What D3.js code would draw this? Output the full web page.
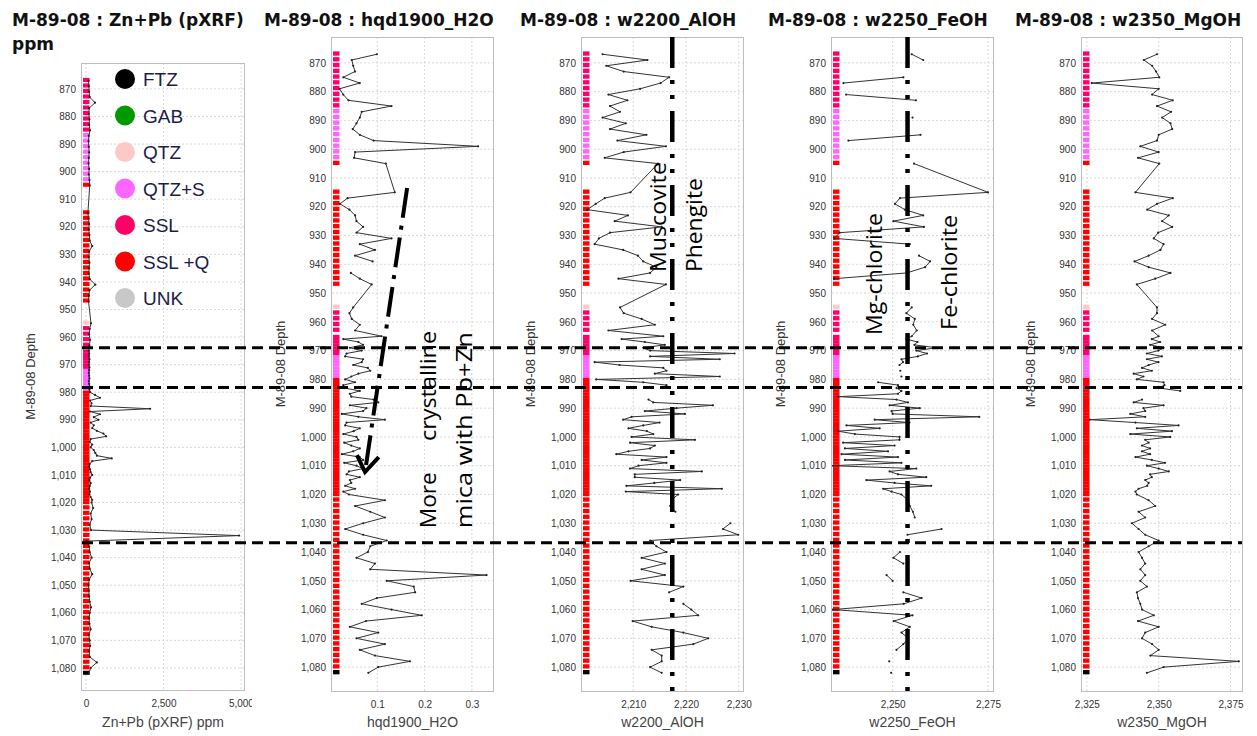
<!DOCTYPE html>
<html>
<head>
<meta charset="utf-8">
<script src="https://cdn.jsdelivr.net/npm/d3@7"></script>
<style>
  body { margin: 0; background: #fff; }
  svg { display: block; font-family: "Liberation Sans", Arial, sans-serif; }
</style>
</head>
<body>
<svg id="chart" width="1257" height="736"></svg>
<script>
// sample depths (m) - shared by every log
const depth = [
  867,869,871,873,875,877,879,881,883,885,887,889,891,893,895,897,899,901,903,905,
  915,917,919,921,923,925,927,929,931,933,935,937,939,941,943,945,947,
  955,957,959,961,963,965,
  966,967,968,969,970,971,972,973,974,975,976,977,978,979,
  980,981,982,983,984,985,986,987,988,989,990,991,992,993,994,995,996,997,998,999,
  1000,1001,1002,1003,1004,1005,1006,1007,1008,1009,1010,1011,1012,1013,1014,1015,1016,1017,1018,1019,1020,
  1022,1024,1026,1028,1030,1032,1034,1036,1038,1040,1042,1044,1046,1048,1050,
  1052,1054,1056,1058,1060,1062,1064,1066,1068,1070,1072,1074,1076,1078,1080,1082
];

const znPb = [
  80,90,100,120,290,100,90,110,100,130,90,80,90,100,90,80,100,90,110,120,
  60,80,100,90,110,120,200,100,90,110,100,90,120,300,110,90,80,
  160,120,100,130,110,90,
  100,90,110,100,90,110,100,90,100,110,90,100,120,110,
  130,290,450,130,180,150,2070,130,450,250,400,150,250,200,350,560,650,150,120,200,
  150,250,300,350,830,200,120,100,130,150,200,130,110,150,120,100,130,110,150,200,180,
  230,150,180,120,160,4940,20,100,120,180,100,120,200,100,80,
  90,100,120,160,120,100,110,150,90,120,130,100,120,350,150,90
];

const hqd1900 = [
  .099,.046,.049,.053,.028,.063,.020,.028,.039,.130,.067,.063,.056,.048,.063,.092,.313,.053,.051,.118,
  .137,.037,.021,.041,.053,.056,.070,.056,.130,.063,.095,.053,.090,null,.044,.063,.088,
  .049,.041,.046,.063,.053,.109,
  .028,.060,.070,.042,.067,.035,.032,.070,.067,.049,.080,.085,.060,.045,
  .032,.053,.028,.030,.063,.042,.045,.092,.102,.042,.077,.070,.025,.060,.116,.035,.032,.063,.050,.028,
  .056,.060,.030,.045,.063,.049,.025,.063,.070,.030,.056,.070,.040,.035,.063,.042,.045,.032,.053,.028,.040,
  .116,.053,.085,.116,.070,.032,.070,.120,.085,.080,.056,.095,.085,.331,.120,
  .177,.180,.099,.067,.130,.194,.076,.042,.102,.056,.116,.063,.095,.169,.102,.081
];

const w2200 = [
  2204.2,2212.7,2204.9,2208.2,2216.8,2215.2,2211.3,2205.3,2208.9,2205.6,2207.5,2204.2,2208.6,2205.6,2212.5,2207.0,2216.2,2208.2,2204.6,2214.7,
  2209.5,2204.6,2202.9,2201.3,2209.0,2206.5,2215.4,2205.6,2203.5,2202.7,2208.1,2210.9,2211.9,2214.4,2213.2,2207.2,2216.2,
  2207.5,2208.2,2211.6,2214.1,2205.3,2215.7,
  2207.8,2212.2,2216.0,2211.9,2213.2,2229.2,2213.2,2226.4,2202.7,2207.4,2215.7,2216.3,2214.1,2226.4,
  2203.0,2211.9,2216.3,2215.7,null,null,null,2212.9,2213.8,2225.1,2218.2,2212.2,2219.8,2209.7,2208.1,2215.0,2211.9,2209.1,2212.6,2213.8,
  2209.7,2221.7,2209.4,2214.1,2213.2,2209.1,2206.8,2216.3,2211.6,2216.3,2211.0,2209.4,2223.0,2210.3,2210.3,2218.9,2214.0,2208.7,2226.8,2208.6,2218.5,
  2217.2,2217.0,2218.0,null,2228.4,2227.0,2229.9,2213.2,2214.4,2216.3,2211.6,2216.0,2211.6,2216.0,2209.5,
  2219.5,2216.8,null,2219.5,2221.0,2222.3,2209.9,2213.5,2219.5,2224.2,2221.4,2213.5,2215.4,2215.4,2213.2,2215.4
];

const w2250 = [
  2255.0,2258.0,null,null,2252.8,2237.1,null,2237.8,2256.1,null,null,2255.2,null,null,2257.3,2238.4,null,null,null,2255.6,
  2275.0,2251.9,2250.6,2253.2,2258.0,2250.2,2258.2,2236.1,2234.7,2254.5,null,2256.9,2259.8,2258.5,2253.7,2234.7,null,
  2255.0,2253.6,2255.8,2255.4,2256.3,2255.0,
  2253.6,2256.5,2255.7,2261.4,2256.2,2259.0,2256.6,2252.3,2252.7,2251.8,null,2252.0,null,2252.3,
  null,2246.2,2251.4,2251.0,2252.3,2251.4,2235.7,2251.0,2254.0,2249.2,2257.1,2249.7,2250.0,2272.7,2245.3,2254.4,2237.9,2246.6,2235.7,2240.1,
  2251.8,2251.8,2237.0,2250.5,2237.5,2248.8,2236.6,2251.4,2237.5,2252.3,2234.0,2256.2,2249.2,2251.4,2258.8,2243.1,2250.5,2260.1,2247.5,2249.7,2252.3,
  2254.1,2254.5,2255.3,2255.8,null,2262.8,2253.9,null,null,2251.9,2250.2,2252.8,null,2248.4,2250.0,
  null,2252.8,2257.6,2252.9,2234.3,2255.2,2250.3,2254.5,2252.3,2254.1,2252.8,2251.0,null,2249.1,null,2249.6
];

const w2350 = [
  2349.4,2344.8,2347.7,2349.1,2350.2,2326.7,2350.0,2347.7,2354.9,2349.4,2354.3,2351.2,2354.1,2354.7,2350.0,2349.4,2343.6,2350.0,2342.8,2350.2,
  2341.9,2354.9,2349.4,2346.0,2353.5,2351.2,2354.7,2349.8,2348.3,2351.7,2350.6,2346.5,2341.6,2346.5,2354.1,2348.8,2342.4,
  2349.4,2349.4,2347.7,2352.3,2347.7,2350.0,
  2347.6,2350.5,2347.0,2351.7,2349.9,2345.9,2351.1,2345.9,2349.9,2346.5,2344.2,2347.6,2341.3,2344.7,
  2342.4,2351.7,2352.0,2350.0,2357.5,null,null,2344.2,2341.3,2351.7,2344.7,2345.3,2340.1,2345.3,2326.0,2341.9,2356.9,2342.4,2354.6,2340.1,
  2354.0,2345.3,2346.5,2344.2,2347.0,2344.2,2347.0,2341.9,2347.6,2352.2,2345.9,2350.0,2353.5,2347.0,2347.6,2345.3,2346.5,2346.0,2343.0,2341.9,2342.4,
  2346.5,2348.8,2343.0,2345.3,2340.7,2343.0,2345.3,2350.0,2346.5,2343.0,2344.2,2345.3,2343.6,2345.3,2343.6,
  2345.9,2342.4,2342.8,2343.6,2344.2,2348.3,2342.8,2350.0,2345.3,2344.2,2347.7,2350.0,2347.1,2377.9,2351.7,2345.9
];

// lithology intervals: [from, to, code]
const lithIntervals = [
  [866, 886, 'SSL'], [886, 904, 'QTZ+S'], [904, 948, 'SSL+Q'], [954, 956, 'QTZ'],
  [956, 971.5, 'SSL'], [971.5, 979.5, 'QTZ+S'], [979.5, 1081, 'SSL+Q'], [1081, 1083, 'FTZ']
];
const lithCodes  = ['FTZ', 'GAB', 'QTZ', 'QTZ+S', 'SSL', 'SSL+Q', 'UNK'];
const lithLabels = ['FTZ', 'GAB', 'QTZ', 'QTZ+S', 'SSL', 'SSL +QTZ', 'UNK'];
const lithColors = ['#000000', '#009900', '#ffc8c8', '#ff66ff', '#ff0066', '#ff0000', '#c8c8c8'];

const depthTicks = [870,880,890,900,910,920,930,940,950,960,970,980,990,1000,1010,1020,1030,1040,1050,1060,1070,1080];

// interpretation overlays (in data units)
const boundaryDepths = [969.0, 982.8, 1036.8];
const cutoffs = [{ panel: 2, value: 2217.4 }, { panel: 3, value: 2253.9 }];
const arrowLine = [[0.163, 913.5], [0.074, 1012.2]];
const arrowHead = [[0.057, 1006.3], [0.074, 1012.2], [0.103, 1007.0]];
const notes = [
  { panel: 1, text: 'More', v: 0.205, d: 1031.7, len: 56 },
  { panel: 1, text: 'crystalline', v: 0.205, d: 1001.4, len: 110 },
  { panel: 1, text: 'mica with Pb+Zn', v: 0.281, d: 1031.7, len: 196 },
  { panel: 2, text: 'Muscovite', v: 2214.5, d: 942.7, len: 110 },
  { panel: 2, text: 'Phengite', v: 2221.3, d: 942.7, len: 94 },
  { panel: 3, text: 'Mg-chlorite', v: 2244.8, d: 964.6, len: 122 },
  { panel: 3, text: 'Fe-chlorite', v: 2264.4, d: 962.8, len: 115 }
];

const panels = [
  { title: ['M-89-08 : Zn+Pb (pXRF)', 'ppm'], label: 'Zn+Pb (pXRF) ppm', values: znPb,
    xDomain: [-130, 5100], xTicks: [0, 2500, 5000], yDomain: [860.6, 1088],
    left: 82, right: 244, top: 63, bottom: 690, titleX: 12, regionLeft: 0, regionRight: 252 },
  { title: ['M-89-08 : hqd1900_H2O'], label: 'hqd1900_H2O', values: hqd1900,
    xDomain: [0.0042, 0.3446], xTicks: [0.1, 0.2, 0.3], yDomain: [861, 1088.3],
    left: 332, right: 493, top: 37, bottom: 691, titleX: 264, regionLeft: 256, regionRight: 503 },
  { title: ['M-89-08 : w2200_AlOH'], label: 'w2200_AlOH', values: w2200,
    xDomain: [2200.3, 2230.8], xTicks: [2210, 2220, 2230], yDomain: [861, 1088.3],
    left: 582, right: 743, top: 37, bottom: 691, titleX: 520, regionLeft: 506, regionRight: 752 },
  { title: ['M-89-08 : w2250_FeOH'], label: 'w2250_FeOH', values: w2250,
    xDomain: [2234.1, 2276.3], xTicks: [2250, 2275], yDomain: [861, 1088.3],
    left: 832, right: 993, top: 37, bottom: 691, titleX: 768, regionLeft: 756, regionRight: 1002 },
  { title: ['M-89-08 : w2350_MgOH'], label: 'w2350_MgOH', values: w2350,
    xDomain: [2323.3, 2379], xTicks: [2325, 2350, 2375], yDomain: [861, 1088.3],
    left: 1082, right: 1242, top: 37, bottom: 691, titleX: 1015, regionLeft: 1005, regionRight: 1257 }
];

const svg = d3.select('#chart');
const defs = svg.append('defs');
svg.append('rect').attr('width', 1257).attr('height', 736).attr('fill', '#fff');

const fmt = d3.format(',');
const lithColor = d3.scaleOrdinal().domain(lithCodes).range(lithColors);

const samples = depth.map((d, i) => {
  const prev = i > 0 ? d - depth[i - 1] : Infinity;
  const next = i < depth.length - 1 ? depth[i + 1] - d : Infinity;
  const step = Math.min(prev, next, 2);
  const lith = lithIntervals.find(r => d >= r[0] && d < r[1]);
  return { d, step, code: lith ? lith[2] : null };
});

panels.forEach((p, pi) => {
  const x = d3.scaleLinear().domain(p.xDomain).range([p.left, p.right]);
  const y = d3.scaleLinear().domain(p.yDomain).range([p.top, p.bottom]);
  p.x = x;
  p.y = y;

  defs.append('clipPath').attr('id', `plot${pi}`).append('rect')
    .attr('x', p.left).attr('y', p.top)
    .attr('width', p.right - p.left).attr('height', p.bottom - p.top);
  defs.append('clipPath').attr('id', `region${pi}`).append('rect')
    .attr('x', p.regionLeft).attr('y', 0)
    .attr('width', p.regionRight - p.regionLeft).attr('height', 736);

  const g = svg.append('g').attr('class', 'panel');

  // title
  const title = g.append('text')
    .attr('x', p.titleX).attr('y', 26)
    .attr('fill', '#111')
    .style('font-family', '"DejaVu Sans", sans-serif')
    .style('font-weight', 'bold')
    .style('font-size', '17px');
  p.title.forEach((t, k) => title.append('tspan').attr('x', p.titleX).attr('dy', k ? 24 : 0).text(t));

  // grid
  g.append('g').selectAll('line').data(depthTicks).join('line')
    .attr('x1', p.left).attr('x2', p.right)
    .attr('y1', d => y(d)).attr('y2', d => y(d))
    .attr('stroke', '#d9d9d9').attr('stroke-dasharray', '2,2');
  g.append('g').selectAll('line').data(p.xTicks).join('line')
    .attr('x1', d => x(d)).attr('x2', d => x(d))
    .attr('y1', p.top).attr('y2', p.bottom)
    .attr('stroke', '#d9d9d9').attr('stroke-dasharray', '2,2');

  // frame
  g.append('rect')
    .attr('x', p.left - 0.5).attr('y', p.top + 0.5)
    .attr('width', p.right - p.left + 1).attr('height', p.bottom - p.top)
    .attr('fill', 'none').attr('stroke', '#bdbdbd');

  // axes
  const ya = g.append('g')
    .attr('transform', `translate(${p.left},0)`)
    .call(d3.axisLeft(y).tickValues(depthTicks).tickFormat(fmt).tickSize(0).tickPadding(6));
  ya.select('.domain').remove();
  ya.attr('font-family', '"Liberation Sans", Arial, sans-serif').attr('font-size', 10);
  ya.selectAll('text').attr('fill', '#333');

  const xa = g.append('g')
    .attr('transform', `translate(0,${p.bottom})`)
    .attr('clip-path', `url(#region${pi})`)
    .call(d3.axisBottom(x).tickValues(p.xTicks).tickFormat(fmt).tickSize(0).tickPadding(10));
  xa.select('.domain').remove();
  xa.attr('font-family', '"Liberation Sans", Arial, sans-serif').attr('font-size', 10);
  xa.selectAll('text').attr('fill', '#333');

  g.append('text')
    .attr('x', (p.left + p.right) / 2).attr('y', 727)
    .attr('text-anchor', 'middle')
    .attr('fill', '#444')
    .style('font-size', '14px')
    .text(p.label);

  g.append('text')
    .attr('transform', `translate(${p.left - 52},${(p.top + p.bottom) / 2}) rotate(-90)`)
    .attr('text-anchor', 'middle')
    .attr('dominant-baseline', 'central')
    .attr('fill', '#333')
    .style('font-size', '13px')
    .text('M-89-08 Depth');

  // lithology strip
  g.append('g').attr('clip-path', `url(#plot${pi})`)
    .selectAll('rect').data(samples.filter(s => s.code)).join('rect')
    .attr('x', p.left + 1)
    .attr('width', 6.5)
    .attr('y', s => y(s.d - s.step / 2))
    .attr('height', s => y(s.d + s.step / 2 - (s.step >= 2 ? 0.5 : 0)) - y(s.d - s.step / 2) + (s.step >= 2 ? 0 : 0.3))
    .attr('fill', s => lithColor(s.code));

  // log curve
  const pts = depth.map((d, i) => ({ d, v: p.values[i] }));
  const line = d3.line()
    .defined(q => q.v != null)
    .x(q => x(q.v))
    .y(q => y(q.d));
  const plot = g.append('g').attr('clip-path', `url(#plot${pi})`);
  plot.append('path')
    .datum(pts)
    .attr('d', line)
    .attr('fill', 'none')
    .attr('stroke', '#333')
    .attr('stroke-width', 1);
  plot.selectAll('circle').data(pts.filter(q => q.v != null)).join('circle')
    .attr('cx', q => x(q.v)).attr('cy', q => y(q.d))
    .attr('r', 1.1)
    .attr('fill', '#222');
});

// legend inside first panel
defs.append('clipPath').attr('id', 'legendClip').append('rect')
  .attr('x', 100).attr('y', 60).attr('width', 110).attr('height', 260);
const legend = svg.append('g').attr('clip-path', 'url(#legendClip)');
const items = legend.selectAll('g').data(lithCodes).join('g')
  .attr('transform', (c, i) => `translate(125,${79 + i * 36.5})`);
items.append('circle').attr('r', 10).attr('fill', c => lithColor(c));
items.append('text')
  .attr('x', 18).attr('y', 7)
  .attr('fill', '#1c1c48')
  .style('font-size', '19px')
  .text((c, i) => lithLabels[i]);

// interpretation overlays
const p2 = panels[1];
svg.append('g').selectAll('line').data(boundaryDepths).join('line')
  .attr('x1', panels[0].left).attr('x2', panels[4].right)
  .attr('y1', d => p2.y(d)).attr('y2', d => p2.y(d))
  .attr('stroke', '#000').attr('stroke-width', 3).attr('stroke-dasharray', '11,6');

svg.append('g').selectAll('line').data(cutoffs).join('line')
  .attr('x1', c => panels[c.panel].x(c.value)).attr('x2', c => panels[c.panel].x(c.value))
  .attr('y1', c => panels[c.panel].top).attr('y2', c => panels[c.panel].bottom)
  .attr('stroke', '#000').attr('stroke-width', 4.5)
  .attr('stroke-dasharray', '31,12,4,11,4,12');

const toPx = d3.line().x(q => p2.x(q[0])).y(q => p2.y(q[1]));
svg.append('path').attr('d', toPx(arrowLine))
  .attr('fill', 'none').attr('stroke', '#000').attr('stroke-width', 4)
  .attr('stroke-dasharray', '30,8,4,8');
svg.append('path').attr('d', toPx(arrowHead))
  .attr('fill', 'none').attr('stroke', '#000').attr('stroke-width', 4)
  .attr('stroke-linejoin', 'miter');

svg.append('g').selectAll('text').data(notes).join('text')
  .attr('transform', n => `translate(${panels[n.panel].x(n.v)},${panels[n.panel].y(n.d)}) rotate(-90)`)
  .attr('dominant-baseline', 'central')
  .attr('textLength', n => n.len)
  .attr('lengthAdjust', 'spacingAndGlyphs')
  .attr('fill', '#000')
  .style('font-family', '"Open Sans", sans-serif')
  .style('font-size', '22px')
  .text(n => n.text);
</script>
</body>
</html>
